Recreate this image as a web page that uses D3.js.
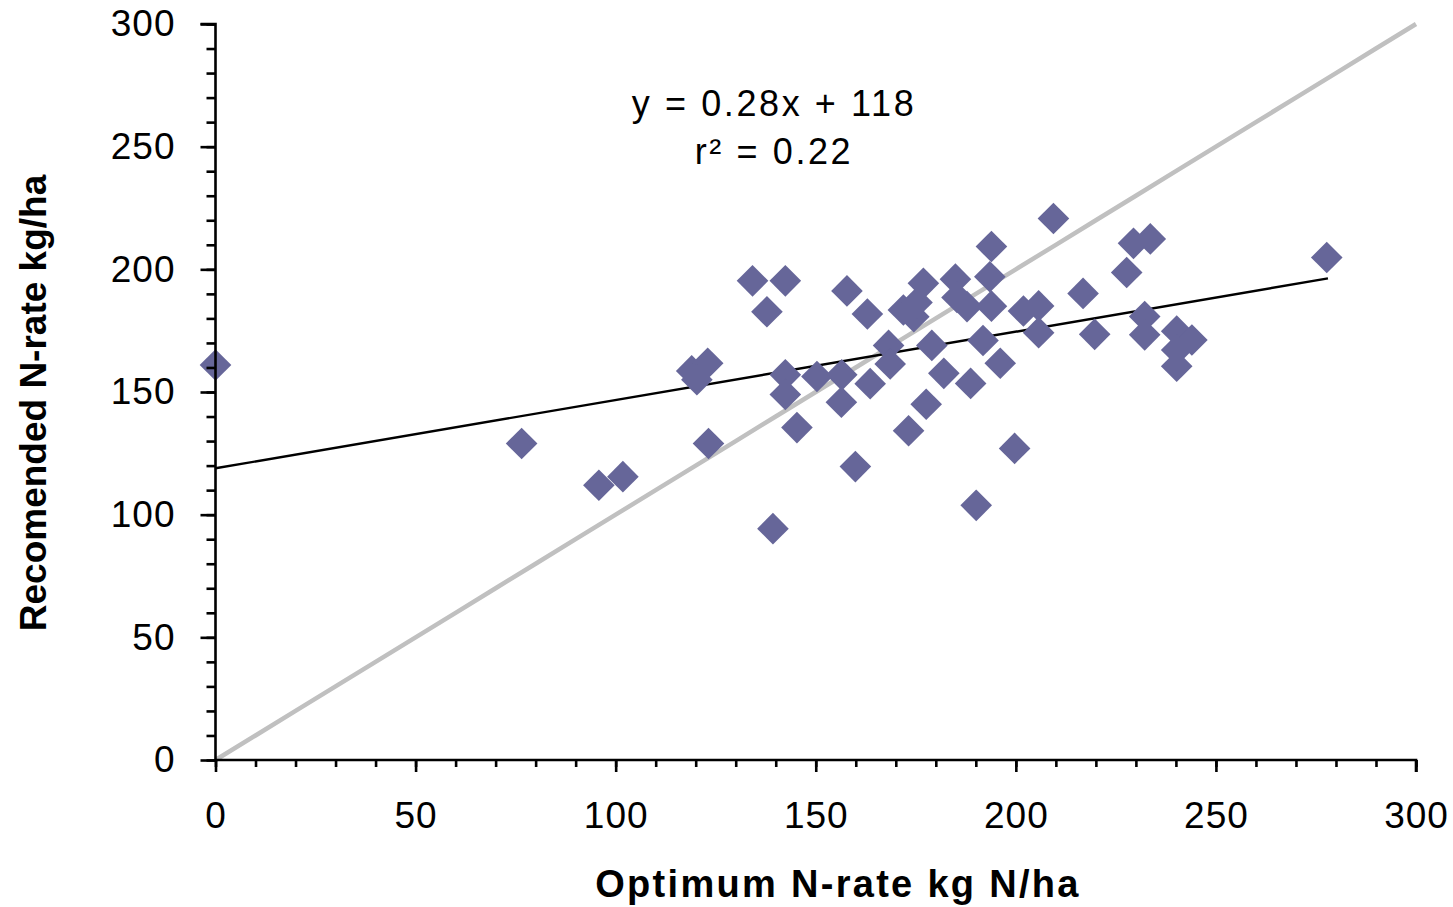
<!DOCTYPE html>
<html>
<head>
<meta charset="utf-8">
<script src="https://cdn.jsdelivr.net/npm/d3@7"></script>
<style>
  html, body { margin: 0; padding: 0; background: #fff; }
  svg { display: block; }
  text { font-family: "Liberation Sans", Arial, sans-serif; fill: #000; }
</style>
</head>
<body>
<svg id="chart" width="1453" height="907"></svg>
<script>
// ---- Data ----
const optimumN = [0, 76.5, 95.8, 101.8, 119, 123, 120.3, 123.2, 134.2, 142.4, 137.8, 139.3, 142.4, 142.4, 145.3,
  150.3, 156.5, 156.4, 157.8, 159.9, 162.9, 163.6, 168.2, 168.6, 171.9, 174.5, 175.3, 176.9, 173.2, 177.6,
  179, 182, 184.9, 185.3, 187.8, 188.7, 190.1, 191.8, 193.5, 193.9, 193.9, 196.1, 199.7, 201.9, 205.7,
  205.7, 209.4, 216.8, 219.7, 227.7, 229.4, 233.6, 232.2, 232.2, 240.2, 244, 240.2, 240.2, 277.7];
const recommendedN = [161, 129, 112, 115.5, 158.6, 161.7, 155, 129, 195.3, 195.3, 182.7, 94.3, 157, 149, 135.5,
  156.3, 157, 145.8, 191.2, 119.6, 181.8, 153.4, 169, 161.4, 183.4, 180.7, 186.5, 194.3, 134.2, 145,
  169, 157.6, 196, 188.5, 184.8, 153.5, 103.8, 171, 197, 185, 209.3, 161.7, 127, 183, 185.1,
  174.2, 220.7, 190.2, 173.5, 198.7, 210.6, 212.4, 180.8, 173.3, 174.8, 171.2, 167.1, 160.5, 204.8];
const oneToOneX = [0, 10, 20, 30, 40, 50, 60, 70, 80, 90, 100, 110, 120, 130, 140, 150, 160, 170, 180, 190, 200,
  210, 220, 230, 240, 250, 260, 270, 280, 290, 300];
const oneToOneY = [0, 10, 20, 30, 40, 50, 60, 70, 80, 90, 100, 110, 120, 130, 140, 150, 160, 170, 180, 190, 200,
  210, 220, 230, 240, 250, 260, 270, 280, 290, 300];
const fitX = [0, 278];
const fitY = [118.9, 196.3];
const majorTicks = [0, 50, 100, 150, 200, 250, 300];
const minorTicks = [0, 10, 20, 30, 40, 50, 60, 70, 80, 90, 100, 110, 120, 130, 140, 150, 160, 170, 180, 190, 200,
  210, 220, 230, 240, 250, 260, 270, 280, 290, 300];
const equationLines = ["y = 0.28x + 118", "r\u00B2 = 0.22"];
const xTitle = "Optimum N-rate kg N/ha";
const yTitle = "Recomended N-rate kg/ha";

// ---- Layout ----
const svg = d3.select("#chart");
const x = d3.scaleLinear().domain([0, 300]).range([215.5, 1416]);
const y = d3.scaleLinear().domain([0, 300]).range([760, 24]);
const x0 = x(0), y0 = y(0);

// 1:1 line
const oneToOne = oneToOneX.map((v, i) => [v, oneToOneY[i]]);
svg.append("path")
  .datum(oneToOne)
  .attr("d", d3.line().x(d => x(d[0])).y(d => y(d[1])))
  .attr("fill", "none")
  .attr("stroke", "#c0c0c0")
  .attr("stroke-width", 4.5)
  .attr("stroke-linejoin", "round");

// regression line
const fit = fitX.map((v, i) => [v, fitY[i]]);
svg.append("path")
  .datum(fit)
  .attr("d", d3.line().x(d => x(d[0])).y(d => y(d[1])))
  .attr("fill", "none")
  .attr("stroke", "#000")
  .attr("stroke-width", 2.4);

// points
const pts = optimumN.map((v, i) => [v, recommendedN[i]]);
const sym = d3.symbol().type(d3.symbolSquare).size(500);
svg.append("g").selectAll("path")
  .data(pts)
  .join("path")
  .attr("d", sym)
  .attr("transform", d => `translate(${x(d[0])},${y(d[1])}) rotate(45)`)
  .attr("fill", "#666699");

// axes
const fmt = d3.format("d");
const yMinor = svg.append("g").attr("transform", `translate(${x0},0)`)
  .call(d3.axisLeft(y).tickValues(minorTicks).tickSize(9).tickFormat(""));
const yMajor = svg.append("g").attr("transform", `translate(${x0},0)`)
  .call(d3.axisLeft(y).tickValues(majorTicks).tickSize(15).tickPadding(25).tickFormat(fmt));
const xMinor = svg.append("g").attr("transform", `translate(0,${y0})`)
  .call(d3.axisBottom(x).tickValues(minorTicks).tickSize(7).tickFormat(""));
const xMajor = svg.append("g").attr("transform", `translate(0,${y0})`)
  .call(d3.axisBottom(x).tickValues(majorTicks).tickSize(12).tickPadding(30).tickFormat(fmt));

[yMinor, yMajor, xMinor, xMajor].forEach(g => {
  g.selectAll(".domain").attr("stroke", "#000").attr("stroke-width", 2.6);
  g.selectAll(".tick line").attr("stroke", "#000").attr("stroke-width", 2.6);
  g.selectAll("text")
    .style("font-family", "'Liberation Sans', Arial, sans-serif")
    .style("font-size", "37px")
    .style("letter-spacing", "1px")
    .attr("fill", "#000");
});
[yMinor, xMinor].forEach(g => g.selectAll(".domain").remove());
yMajor.select(".domain").attr("d", `M-15,${y(300)}H0V${y0}`);
xMajor.select(".domain").attr("d", `M${x0},0H${x(300)}V12`);

// equation text
svg.append("g").selectAll("text")
  .data(equationLines)
  .join("text")
  .attr("x", 774)
  .attr("y", (d, i) => 116 + i * 48)
  .attr("text-anchor", "middle")
  .style("font-size", "36px")
  .style("letter-spacing", "2.6px")
  .text(d => d);

// axis titles
svg.append("text")
  .attr("x", 838)
  .attr("y", 897)
  .attr("text-anchor", "middle")
  .style("font-size", "38px")
  .style("font-weight", "bold")
  .style("letter-spacing", "2.3px")
  .text(xTitle);

svg.append("text")
  .attr("transform", `translate(46,403) rotate(-90)`)
  .attr("text-anchor", "middle")
  .style("font-size", "37px")
  .style("font-weight", "bold")
  .text(yTitle);
</script>
</body>
</html>
